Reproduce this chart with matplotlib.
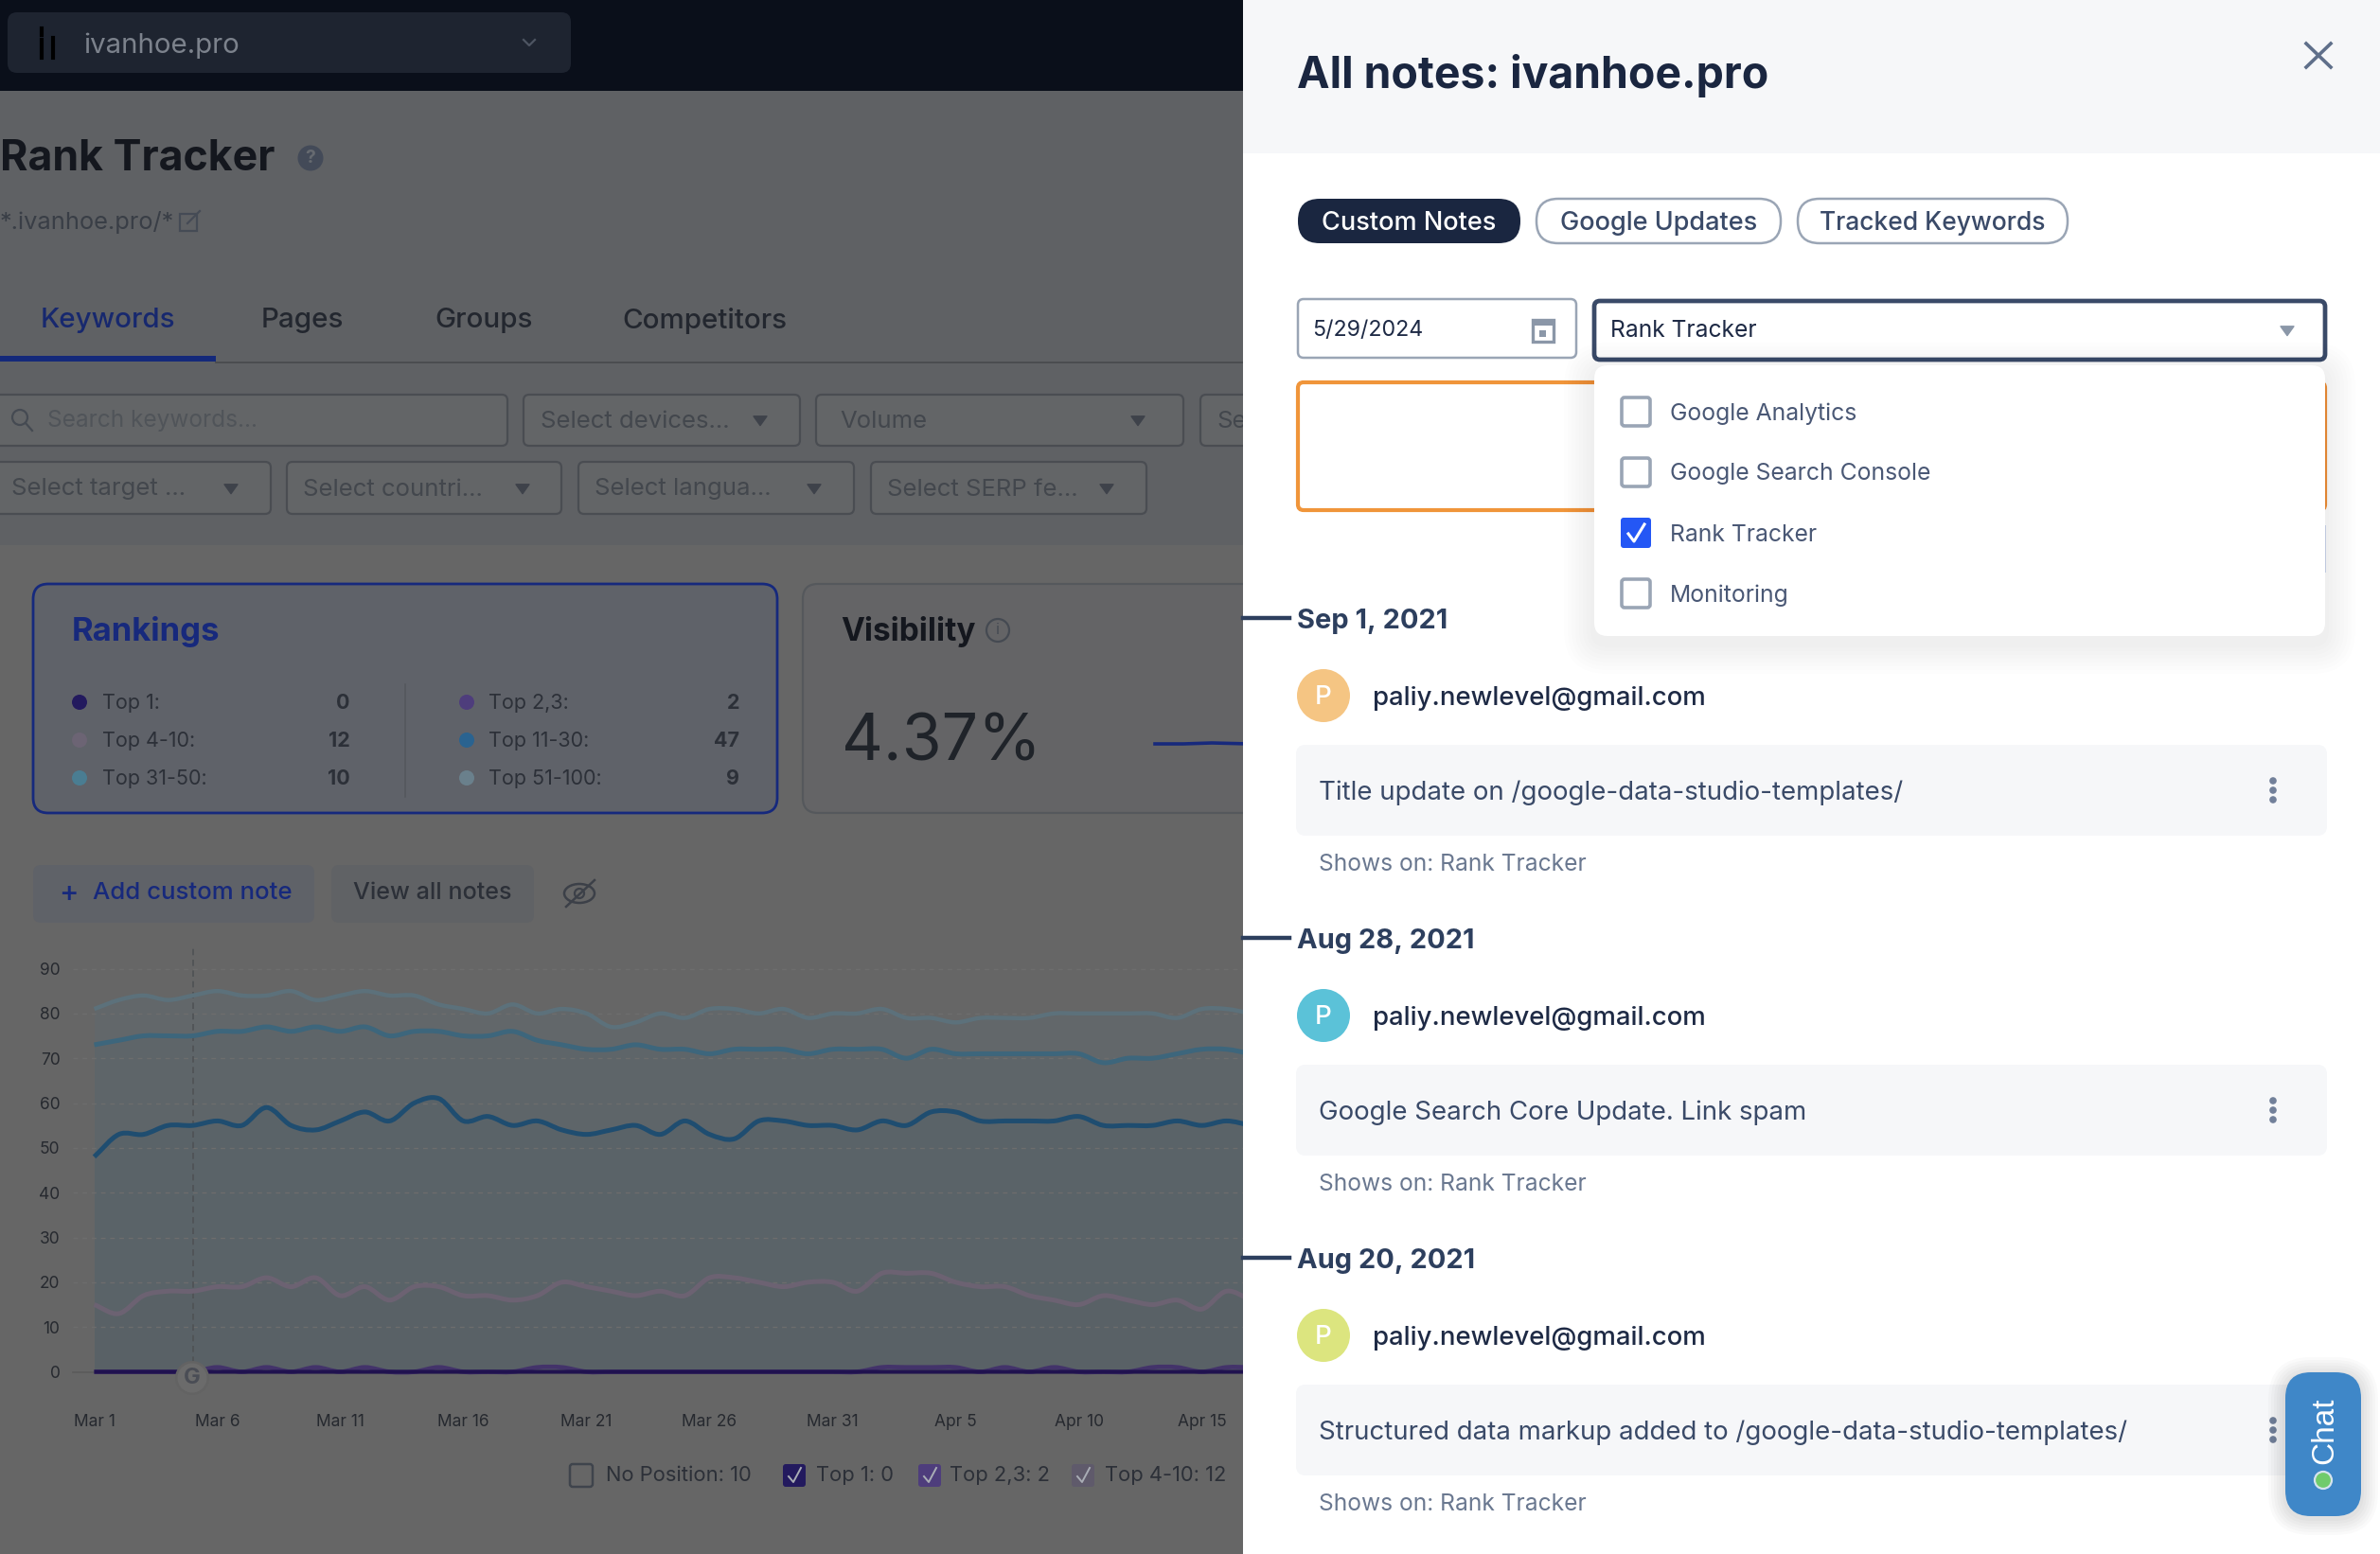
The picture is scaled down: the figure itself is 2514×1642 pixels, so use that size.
import matplotlib
matplotlib.use('Agg')
import matplotlib.pyplot as plt
from matplotlib.patches import FancyBboxPatch, Circle, Rectangle, Ellipse, PathPatch
from matplotlib.path import Path
import numpy as np

plt.rcParams['font.family'] = ['Inter', 'DejaVu Sans']

W, H = 2514, 1642

# chart data, one value per day from Mar 1
top_51_100 = [81, 83, 84, 83, 84, 85, 84, 84, 85, 83, 84, 85, 84, 84, 82, 81, 80, 82, 80, 81, 80, 77, 78, 80,
              79, 81, 81, 80, 81, 79, 80, 80, 81, 79, 79, 78, 79, 79, 79, 80, 80, 80, 80, 80, 79, 81, 81, 80]
top_31_50 = [73, 74, 75, 75, 75, 76, 76, 77, 76, 77, 76, 77, 75, 76, 76, 75, 75, 76, 74, 73, 72, 72, 73, 72,
             72, 71, 72, 72, 72, 71, 72, 72, 72, 70, 72, 71, 71, 71, 71, 71, 71, 69, 70, 70, 71, 72, 72, 71]
top_11_30 = [48, 53, 53, 55, 55, 56, 55, 59, 55, 54, 56, 58, 56, 60, 61, 56, 57, 55, 56, 54, 53, 54, 55, 53,
             56, 53, 52, 56, 56, 55, 55, 54, 56, 55, 58, 58, 56, 56, 56, 56, 57, 55, 55, 55, 56, 55, 56, 55]
top_4_10 = [15, 13, 17, 18, 18, 19, 19, 21, 19, 21, 17, 19, 16, 19, 19, 17, 17, 16, 17, 20, 19, 18, 17, 18,
            17, 21, 21, 20, 19, 20, 20, 18, 22, 22, 22, 20, 19, 19, 17, 16, 15, 17, 16, 15, 16, 14, 18, 16]
top_2_3 = [0, 0, 0, 0, 0, 1, 0, 1, 0, 1, 0, 1, 0, 0, 1, 0, 0, 0, 1, 1, 0, 0, 0, 0,
           0, 0, 0, 0, 0, 0, 0, 0, 1, 1, 1, 1, 0, 1, 0, 1, 0, 0, 0, 1, 1, 0, 1, 1]
top_1 = [0] * 48

x_labels = ['Mar 1', 'Mar 6', 'Mar 11', 'Mar 16', 'Mar 21', 'Mar 26', 'Mar 31', 'Apr 5', 'Apr 10', 'Apr 15']
y_ticks = [0, 10, 20, 30, 40, 50, 60, 70, 80, 90]

rank_left = [('Top 1:', '0', '#231a5e'), ('Top 4-10:', '12', '#6c6474'), ('Top 31-50:', '10', '#4a7d92')]
rank_right = [('Top 2,3:', '2', '#4e3d7c'), ('Top 11-30:', '47', '#2a6390'), ('Top 51-100:', '9', '#6a808c')]
legend_items = [('No Position: 10', None), ('Top 1: 0', '#231a5e'), ('Top 2,3: 2', '#4e3d7c'), ('Top 4-10: 12', '#5f5a6b')]
menu_items = ['Google Analytics', 'Google Search Console', 'Rank Tracker', 'Monitoring']
notes = [('Sep 1, 2021', 'Title update on /google-data-studio-templates/', '#f5c583'),
         ('Aug 28, 2021', 'Google Search Core Update. Link spam', '#5bc2d8'),
         ('Aug 20, 2021', 'Structured data markup added to /google-data-studio-templates/', '#dce57f')]

fig = plt.figure(figsize=(W / 100, H / 100), dpi=100, facecolor='#666666')


def px_axes(z):
    a = fig.add_axes([0, 0, 1, 1], zorder=z)
    a.set_xlim(0, W)
    a.set_ylim(H, 0)
    a.axis('off')
    a.patch.set_alpha(0)
    return a


def box(a, x0, y0, x1, y1, fc='none', ec='none', lw=0, r=8, **kw):
    p = FancyBboxPatch((x0 + r, y0 + r), x1 - x0 - 2 * r, y1 - y0 - 2 * r,
                       boxstyle='round,pad=%f,rounding_size=%f' % (r, r),
                       fc=fc, ec=ec, lw=lw, **kw)
    a.add_patch(p)
    return p


def txt(a, x, y, s, size=19, color='#333333', weight='normal', ha='left', **kw):
    return a.text(x, y + 3, s, fontsize=size, color=color, fontweight=weight, ha=ha, va='center', **kw)


def shadow(a, x0, y0, x1, y1, r, dy=8, n=8, spread=4, alpha=0.012):
    for i in range(n, 0, -1):
        box(a, x0 - i * spread, y0 - i * spread + dy, x1 + i * spread, y1 + i * spread + dy,
            fc='black', r=r + i * spread, alpha=alpha)


def caret(a, x, y, c, s=7):
    a.add_patch(plt.Polygon([[x - s, y - s * 0.6], [x + s, y - s * 0.6], [x, y + s * 0.8]], fc=c, ec=c, lw=1, joinstyle='round'))


def smooth_path(xs, ys, close_base=False):
    # spline segments through the daily values, same look as the site's chart
    xs = np.asarray(xs, float)
    ys = np.asarray(ys, float)
    m = np.gradient(ys)
    verts = [(xs[0], ys[0])]
    codes = [Path.MOVETO]
    for i in range(len(ys) - 1):
        verts += [(xs[i] + 1 / 3, ys[i] + m[i] / 3), (xs[i + 1] - 1 / 3, ys[i + 1] - m[i + 1] / 3), (xs[i + 1], ys[i + 1])]
        codes += [Path.CURVE4] * 3
    if close_base:
        verts += [(xs[-1], 0), (xs[0], 0), (xs[0], ys[0])]
        codes += [Path.LINETO, Path.LINETO, Path.CLOSEPOLY]
    return Path(verts, codes)


# ---- page behind the drawer
ui = px_axes(0)
ui.add_patch(Rectangle((0, 96), 1320, 480, fc='#5f6164', ec='none'))
ui.add_patch(Rectangle((0, 0), 1320, 96, fc='#0a0f1a', ec='none'))
box(ui, 8, 13, 603, 77, fc='#1e2430', r=10)
ui.plot([44, 44], [30, 37], color='black', lw=3)
ui.plot([44, 44], [42, 61], color='black', lw=3)
ui.plot([56, 56], [40, 46], color='black', lw=3)
ui.plot([56, 56], [50, 61], color='black', lw=3)
txt(ui, 88, 45, 'ivanhoe.pro', 21.2, '#7c828c')
ui.plot([553, 559, 565], [42, 48, 42], color='#4e5562', lw=1.6)

txt(ui, 0, 165, 'Rank Tracker', 32.2, '#14171e', 'bold')
ui.add_patch(Circle((328, 167), 13.5, fc='#434a58', ec='none'))
txt(ui, 328, 164, '?', 14, '#666a70', 'bold', ha='center')
txt(ui, 0, 232, '*.ivanhoe.pro/*', 18.3, '#393e46')
ui.add_patch(Rectangle((190, 226), 18, 18, fc='none', ec='#454b55', lw=1.6))
ui.plot([198, 211], [236, 223], color='#454b55', lw=1.6)

for x, s, c in [(43, 'Keywords', '#17286e'), (276, 'Pages', '#23272f'), (459, 'Groups', '#23272f'), (657, 'Competitors', '#23272f')]:
    txt(ui, x, 336, s, 21.3, c, 'medium')
ui.add_patch(Rectangle((0, 376), 228, 6, fc='#14297a', ec='none'))
ui.plot([228, 1320], [383, 383], color='#4b4d50', lw=1.4)

for x0, x1, y0, y1 in [(-8, 536, 417, 471), (553, 845, 417, 471), (862, 1250, 417, 471), (1268, 1345, 417, 471),
                       (-8, 286, 488, 543), (303, 593, 488, 543), (611, 902, 488, 543), (920, 1211, 488, 543)]:
    box(ui, x0, y0, x1, y1, fc='#636567', ec='#4a4d52', lw=1.6, r=6)
ui.add_patch(Circle((21, 441), 8, fc='none', ec='#454a52', lw=1.6))
ui.plot([27, 34], [447, 455], color='#454a52', lw=1.6)
txt(ui, 50, 442, 'Search keywords...', 17.6, '#505459')
for x, y, s in [(571, 442, 'Select devices...'), (887, 442, 'Volume'), (1285, 442, 'Se'),
                (12, 514, 'Select target ...'), (320, 514, 'Select countri...'), (628, 514, 'Select langua...'), (937, 514, 'Select SERP fe...')]:
    txt(ui, x, y, s, 18.5, '#43474d')
for x, y in [(803, 444), (1202, 444), (244, 516), (552, 516), (860, 516), (1169, 516)]:
    caret(ui, x, y, '#3e424a')

box(ui, 35, 617, 821, 859, fc='#5f6269', ec='#16297d', lw=2, r=16)
txt(ui, 76, 664, 'Rankings', 25, '#17297c', 'bold')
ui.plot([428, 428], [723, 842], color='#55585e', lw=1.2)
for rows, dx, lx, vx in [(rank_left, 84, 108, 370), (rank_right, 493, 516, 781)]:
    for (label, val, c), y in zip(rows, [742, 782, 822]):
        ui.add_patch(Circle((dx, y), 8, fc=c, ec='none'))
        txt(ui, lx, y - 2, label, 15.5, '#2c3038')
        txt(ui, vx, y - 2, val, 15.5, '#2c3038', 'bold', ha='right')
box(ui, 848, 617, 1400, 859, fc='#646466', ec='#55585c', lw=1.6, r=16)
txt(ui, 888, 664, 'Visibility', 24, '#14171e', 'bold')
ui.add_patch(Circle((1054, 666), 12, fc='none', ec='#454a52', lw=1.6))
txt(ui, 1054, 663, 'i', 12, '#454a52', ha='center')
txt(ui, 889, 783, '4.37%', 49, '#1f2329', 'normal')
ui.plot([1220, 1250, 1280, 1320], [786, 786, 785, 786], color='#17297c', lw=2.6)

box(ui, 35, 914, 332, 975, fc='#5f6268', r=8)
txt(ui, 62, 941, '+', 22, '#17297c', 'medium')
txt(ui, 98, 941, 'Add custom note', 18.6, '#17297c', 'medium')
box(ui, 350, 914, 564, 975, fc='#606265', r=8)
txt(ui, 373, 941, 'View all notes', 18.1, '#2c3038', 'medium')
ui.add_patch(Ellipse((612, 944), 32, 20, fc='none', ec='#3c4048', lw=1.8))
ui.add_patch(Circle((612, 944), 5, fc='none', ec='#3c4048', lw=1.6))
ui.plot([598, 628], [958, 930], color='#3c4048', lw=1.8)

for (s, c), bx, tx in zip(legend_items, [614, 839, 982, 1144], [640, 862, 1003, 1167]):
    if c is None:
        box(ui, bx - 12, 1547, bx + 12, 1571, fc='none', ec='#3f444c', lw=1.8, r=3)
    else:
        box(ui, bx - 12, 1547, bx + 12, 1571, fc=c, r=3)
        ui.plot([bx - 6, bx - 1, bx + 7], [1560, 1566, 1551], color='#a9adb5', lw=1.4)
    txt(ui, tx, 1556, s, 15.8, '#2c3038')

# ---- the chart itself, 26 px per day
chart_x0, chart_x1, chart_y0, chart_y90 = 99.5, 1320, 1449.5, 1023.5
ax = fig.add_axes([chart_x0 / W, 1 - chart_y0 / H, (chart_x1 - chart_x0) / W, (chart_y0 - chart_y90) / H], zorder=1)
ax.patch.set_alpha(0)
ax.set_xlim(0, (chart_x1 - chart_x0) / 26.0)
ax.set_ylim(0, 90)
for sp in ax.spines.values():
    sp.set_visible(False)
days = np.arange(len(top_1))
ax.set_xticks(days[::5][:len(x_labels)])
ax.set_xticklabels(x_labels, fontsize=12.5, color='#26292f')
ax.set_yticks(y_ticks)
ax.set_yticklabels(y_ticks, fontsize=12.5, color='#26292f')
ax.tick_params(axis='x', length=0, pad=32)
ax.tick_params(axis='y', length=0, pad=26)
for v in y_ticks[1:]:
    ax.plot([-0.85, 47], [v, v], color='#6d6d6d', lw=1, ls=(0, (3.5, 3.5)), clip_on=False, zorder=2)

series = [(top_51_100, '#5c717b', '#62676a', 3.2), (top_31_50, '#3d667c', '#5e6569', 3.6),
          (top_11_30, '#1f4d70', '#5a6368', 3.6), (top_4_10, '#6c6272', '#596166', 3.6),
          (top_2_3, '#43336a', 'none', 3.4), (top_1, '#20124f', 'none', 3.0)]
for vals, line_c, fill_c, lw in series:
    if fill_c != 'none':
        ax.add_patch(PathPatch(smooth_path(days, vals, True), fc=fill_c, ec='none', zorder=1))
for vals, line_c, fill_c, lw in series:
    ax.add_patch(PathPatch(smooth_path(days, vals), fc='none', ec=line_c, lw=lw, capstyle='butt', zorder=3, clip_on=False))
ax.plot([-0.85, 0], [0, 0], color='#5a5a5a', lw=1.2, clip_on=False)
ax.plot([4, 4], [2, 95], color='#4f5255', lw=1.2, ls=(0, (4, 2.8)), clip_on=False, zorder=2)

# google update marker on the axis
ui_top = px_axes(1.5)
ui_top.add_patch(Circle((203, 1456), 18, fc='#636363', ec='none'))
ui_top.add_patch(Circle((203, 1456), 15.5, fc='#6b6b6b', ec='none'))
txt(ui_top, 203, 1453, 'G', 17, '#4a4d55', 'bold', ha='center')

# ---- drawer on the right
rp = px_axes(2)
rp.add_patch(Rectangle((1313, 0), W - 1313, H, fc='white', ec='none'))
rp.add_patch(Rectangle((1313, 0), W - 1313, 162, fc='#f6f7f9', ec='none'))
txt(rp, 1370, 77, 'All notes: ivanhoe.pro', 33.4, '#1a2640', 'bold')
rp.plot([2436, 2462], [46, 71], color='#5f6f8a', lw=2.6)
rp.plot([2436, 2462], [71, 46], color='#5f6f8a', lw=2.6)

box(rp, 1371, 210, 1606, 257, fc='#1a2640', r=23)
txt(rp, 1488, 233, 'Custom Notes', 19.5, 'white', 'medium', ha='center')
box(rp, 1623, 210, 1881, 257, fc='white', ec='#9aa5b5', lw=1.8, r=23)
txt(rp, 1752, 233, 'Google Updates', 19.5, '#3a4a68', 'medium', ha='center')
box(rp, 1899, 210, 2184, 257, fc='white', ec='#9aa5b5', lw=1.8, r=23)
txt(rp, 2041, 233, 'Tracked Keywords', 19, '#3a4a68', 'medium', ha='center')

box(rp, 1371, 316, 1665, 378, fc='white', ec='#9aa5b5', lw=1.8, r=6)
txt(rp, 1386, 346, '5/29/2024', 16.7, '#1e2a45')
rp.add_patch(Rectangle((1619, 338), 22, 23, fc='none', ec='#8b97a8', lw=2.4))
rp.add_patch(Rectangle((1619, 338), 22, 6, fc='#8b97a8', ec='none'))
rp.add_patch(Rectangle((1626, 349), 7, 7, fc='#8b97a8', ec='none'))
box(rp, 1684, 318, 2456, 380, fc='white', ec='#3a4a68', lw=3.4, r=6)
txt(rp, 1701, 347, 'Rank Tracker', 17.7, '#1e2a45')
caret(rp, 2416, 349, '#8b97a8', 7)

box(rp, 1371, 404, 2456, 539, fc='white', ec='#f0953a', lw=3, r=6)
rp.add_patch(Rectangle((2448, 555), 9, 50, fc='#cfd9ee', ec='none'))

shadow(rp, 1684, 386, 2456, 672, 14, alpha=0.008)
box(rp, 1684, 386, 2456, 672, fc='white', r=14)
for s, y in zip(menu_items, [435, 499, 563, 627]):
    checked = s == 'Rank Tracker'
    if checked:
        box(rp, 1712, y - 16, 1744, y + 16, fc='#2457f5', r=3)
        rp.plot([1720, 1726, 1737], [y + 1, y + 9, y - 9], color='white', lw=2.2)
    else:
        box(rp, 1713, y - 15, 1743, y + 15, fc='white', ec='#9aa5b5', lw=2.6, r=3)
    txt(rp, 1764, y - 1, s, 17.8, '#4a5875')

for i, (date, note, av) in enumerate(notes):
    dy = [0, 338, 676][i]
    rp.plot([1313, 1362], [653 + dy, 653 + dy], color='#2d3f5e', lw=3.2)
    txt(rp, 1370, 654 + dy, date, 20.9, '#2d3f5e', 'bold')
    rp.add_patch(Circle((1398, 735 + dy), 28, fc=av, ec='none'))
    txt(rp, 1398, 734 + dy, 'P', 20, 'white', 'medium', ha='center')
    txt(rp, 1450, 735 + dy, 'paliy.newlevel@gmail.com', 19.8, '#1e2a45', 'medium')
    box(rp, 1369, 787 + dy, 2458, 883 + dy, fc='#f6f7f9', r=10)
    txt(rp, 1393, 835 + dy, note, 19.9, '#3a4a68')
    for ddy in (-10, 0, 10):
        rp.add_patch(Circle((2401, 835 + dy + ddy), 3.8, fc='#72809a', ec='none'))
    txt(rp, 1393, 910 + dy, 'Shows on: Rank Tracker', 17.7, '#6a7890')

shadow(rp, 2414, 1450, 2494, 1602, 27, dy=2, n=6, spread=3, alpha=0.02)
box(rp, 2414, 1450, 2494, 1602, fc='#3f87c8', r=27)
txt(rp, 2456, 1509, 'Chat', 24, 'white', ha='center', rotation=90, family='Liberation Sans')
rp.add_patch(Circle((2454, 1564), 9, fc='#70cb6b', ec='#d5e3ee', lw=1.6))

fig.savefig('out.png', dpi=100)
